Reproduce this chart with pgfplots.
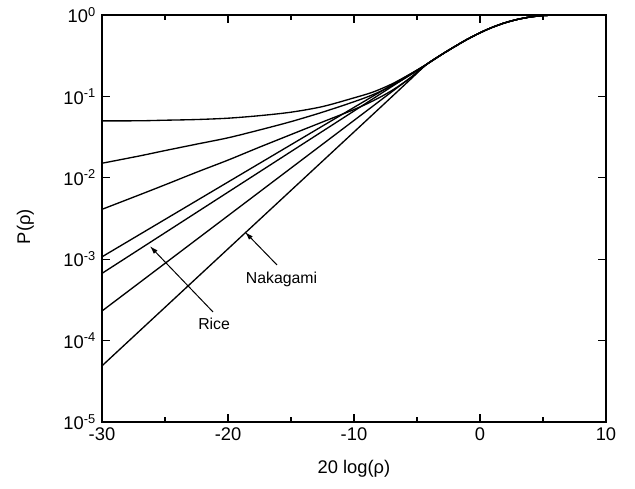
\documentclass[border=0pt]{standalone}
\usepackage{fontspec}
\setmainfont{Liberation Sans}
\usepackage{pgfplots}
\pgfplotsset{compat=1.18}
\usetikzlibrary{arrows.meta}
\begin{document}
\begin{tikzpicture}
\path[use as bounding box] (-61.2pt,-39.6pt) rectangle (319.8pt,253.2pt);
\begin{axis}[
 at={(0,0)}, anchor=south west,
 scale only axis, width=302.4pt, height=244.2pt,
 xmin=-30, xmax=10, ymin=1e-5, ymax=1,
 ymode=log, log basis y=10,
 xtick={-30,-20,...,10}, minor xtick={-25,-15,-5,5},
 ytick={1e-5,1e-4,1e-3,1e-2,1e-1,1},
 /pgf/number format/assume math mode=true,
 log number format basis/.code 2 args={#1\textsuperscript{\pgfmathprintnumber{#2}}},
 tick label style={font=\fontsize{11}{13}\selectfont},
 label style={font=\fontsize{11}{13}\selectfont},
 xlabel={20 log(ρ)}, ylabel={P(ρ)},
 ylabel style={at={(axis description cs:-0.152,0.48)}, anchor=center},
 xlabel style={yshift=-5pt},
 major tick length=5pt, minor tick length=3pt,
 axis line style={line width=1pt},
 every tick/.style={black, line width=0.7pt},
 cycle list={{black, solid}},
 every axis plot/.append style={line width=0.8pt, smooth, no markers},
]
% curve 1
\addplot coordinates {(-30,0.050) (-27,0.0502) (-25,0.051) (-22.5,0.052) (-20,0.054) (-17.5,0.058) (-15,0.064) (-12.5,0.075) (-10,0.096) (-8.5,0.113) (-7,0.142) (-5.5,0.19) (-4.2,0.25) (-3,0.330) (-2,0.410) (-1,0.504) (0,0.605) (1,0.708) (2,0.804) (3,0.885) (4,0.946) (5,0.984) (6,0.998) (7,1.0) (10,1.0)};
% curve 2
\addplot coordinates {(-30,0.0151) (-27,0.0186) (-25,0.0216) (-22.5,0.0259) (-20,0.031) (-17.5,0.0387) (-15,0.049) (-12.5,0.064) (-10,0.086) (-8.5,0.105) (-7,0.135) (-5.5,0.185) (-4.2,0.25) (-3,0.330) (-2,0.410) (-1,0.504) (0,0.605) (1,0.708) (2,0.804) (3,0.885) (4,0.946) (5,0.984) (6,0.998) (7,1.0) (10,1.0)};
% curve 3
\addplot coordinates {(-30,0.0041) (-27,0.0062) (-25,0.0082) (-22.5,0.0117) (-20,0.0165) (-17.5,0.0238) (-15,0.034) (-12.5,0.0485) (-10,0.069) (-8.5,0.088) (-7,0.118) (-5.5,0.17) (-4.2,0.25) (-3,0.330) (-2,0.410) (-1,0.504) (0,0.605) (1,0.708) (2,0.804) (3,0.885) (4,0.946) (5,0.984) (6,0.998) (7,1.0) (10,1.0)};
% curve 4
\addplot coordinates {(-30,0.00107) (-20,0.00887) (-10,0.0733) (-7,0.138) (-5.5,0.189) (-4.2,0.25) (-3,0.330) (-2,0.410) (-1,0.504) (0,0.605) (1,0.708) (2,0.804) (3,0.885) (4,0.946) (5,0.984) (6,0.998) (7,1.0) (10,1.0)};
% curve 5 (Rice)
\addplot coordinates {(-30,0.00067) (-20,0.00666) (-10,0.0662) (-7,0.132) (-5.5,0.186) (-4.2,0.25) (-3,0.330) (-2,0.410) (-1,0.504) (0,0.605) (1,0.708) (2,0.804) (3,0.885) (4,0.946) (5,0.984) (6,0.998) (7,1.0) (10,1.0)};
% curve 6
\addplot coordinates {(-30,0.000231) (-20,0.00342) (-10,0.0507) (-7,0.114) (-5.5,0.171) (-4.2,0.25) (-3,0.330) (-2,0.410) (-1,0.504) (0,0.605) (1,0.708) (2,0.804) (3,0.885) (4,0.946) (5,0.984) (6,0.998) (7,1.0) (10,1.0)};
% curve 7 (Nakagami)
\addplot coordinates {(-30,0.000049) (-20,0.00134) (-10,0.0366) (-7,0.0989) (-5.5,0.163) (-4.2,0.25) (-3,0.330) (-2,0.410) (-1,0.504) (0,0.605) (1,0.708) (2,0.804) (3,0.885) (4,0.946) (5,0.984) (6,0.998) (7,1.0) (10,1.0)};
\draw[line width=0.6pt, -{Latex[length=5pt,width=3pt]}] (axis cs:-21.19,2.25e-4) -- (axis cs:-26.2,1.45e-3);
\draw[line width=0.6pt, -{Latex[length=5pt,width=3pt]}] (axis cs:-16.11,8.5e-4) -- (axis cs:-18.65,2.16e-3);
\node[font=\fontsize{9.5}{11}\selectfont] at (axis cs:-21.1,1.6e-4) {Rice};
\node[font=\fontsize{9.5}{11}\selectfont] at (axis cs:-15.75,5.7e-4) {Nakagami};
\end{axis}
\end{tikzpicture}
\end{document}
